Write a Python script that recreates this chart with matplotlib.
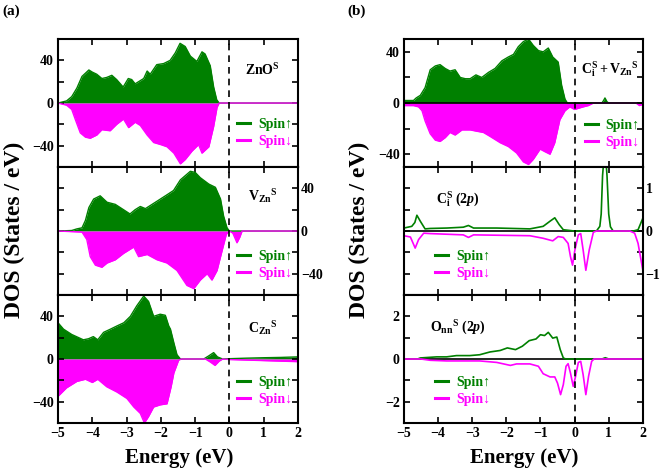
# Spin-polarised DOS panels: (a) total DOS, (b) total + projected 2p DOS
import matplotlib
matplotlib.use('Agg')
import matplotlib.pyplot as plt
from matplotlib.ticker import MultipleLocator

plt.rcParams['font.family'] = ['Liberation Serif', 'DejaVu Serif']
plt.rcParams['font.weight'] = 'bold'
plt.rcParams['mathtext.fontset'] = 'custom'
plt.rcParams['mathtext.rm'] = 'Liberation Serif:bold'
plt.rcParams['mathtext.it'] = 'Liberation Serif:bold:italic'
plt.rcParams['mathtext.bf'] = 'Liberation Serif:bold'

GREEN = '#008000'
MAGENTA = '#ff00ff'

# ---- data (energy in eV, DOS in states/eV) ----
# (a) top: ZnO^S
e_zno_up = [-5, -4.75, -4.6, -4.45, -4.3, -4.1, -4.0, -3.87, -3.72, -3.58, -3.43, -3.29, -3.1, -2.95,
            -2.85, -2.75, -2.6, -2.5, -2.4, -2.31, -2.12, -1.92, -1.73, -1.58, -1.44, -1.29, -1.14,
            -0.95, -0.8, -0.71, -0.56, -0.46, -0.37, -0.3, 2.0]
zno_up = [0, 2, 6, 14, 25, 31, 29, 27, 23, 24, 26, 22, 15, 23, 22, 18, 21, 23, 30, 27, 36, 37, 40,
          47, 56, 53, 44, 39, 48, 46, 35, 15, 3, 0, 0]
e_zno_dn = [-5, -4.75, -4.6, -4.5, -4.35, -4.2, -4.06, -3.87, -3.72, -3.48, -3.29, -3.09, -2.94, -2.75,
            -2.6, -2.4, -2.21, -2.0, -1.82, -1.62, -1.43, -1.29, -1.09, -0.9, -0.8, -0.6, -0.46,
            -0.36, -0.3, 2.0]
zno_dn = [0, -2, -6, -15, -28, -32, -33, -30, -25, -26, -20, -15, -23, -18, -21, -30, -37, -39, -41,
          -47, -57, -53, -45, -39, -47, -41, -22, -4, 0, 0]

# (a) middle: V_Zn^S
e_vzn_up = [-5, -4.6, -4.45, -4.3, -4.2, -4.1, -3.96, -3.77, -3.57, -3.33, -3.09, -2.9, -2.75, -2.6,
            -2.45, -2.11, -1.82, -1.63, -1.43, -1.14, -1.0, -0.85, -0.6, -0.41, -0.26, -0.17,
            -0.07, 0.0, 2.0]
vzn_up = [0, 0.5, 2, 3, 10, 22, 30, 33, 27, 25, 20, 16, 20, 23, 21, 28, 34, 38, 48, 56, 55, 50, 44,
          41, 30, 14, 3, 0, 0]
e_vzn_dn = [-5, -4.3, -4.16, -4.06, -3.91, -3.72, -3.57, -3.33, -3.09, -2.79, -2.65, -2.4, -2.11,
            -1.82, -1.53, -1.24, -1.04, -0.85, -0.65, -0.51, -0.36, -0.21, -0.09, 0.0, 0.1, 0.22,
            0.3, 0.37, 2.0]
vzn_dn = [0, -1, -8, -24, -32, -34, -30, -27, -21, -15, -24, -22, -27, -30, -37, -51, -54, -46, -40,
          -46, -37, -18, -3, 0, -2, -11, -6, 0, 0]

# (a) bottom: C_Zn^S
e_czn_up = [-5, -4.84, -4.6, -4.26, -4.11, -3.97, -3.84, -3.67, -3.47, -3.28, -3.08, -2.89, -2.7,
            -2.5, -2.36, -2.21, -2.02, -1.87, -1.77, -1.72, -1.62, -1.53, -1.43, -0.75, -0.6,
            -0.46, -0.35, -0.2, 0.0, 0.5, 1.0, 1.5, 2.0]
czn_up = [34, 28, 23, 18, 19, 21, 18, 25, 28, 31, 34, 40, 50, 59, 54, 40, 42, 41, 31, 28, 15, 4, 0,
          0, 3, 6, 2, 0, 0.3, 0.8, 1.2, 1.5, 2.0]
e_czn_dn = [-5, -4.75, -4.45, -4.2, -4.0, -3.84, -3.58, -3.28, -2.99, -2.79, -2.6, -2.48, -2.36,
            -2.21, -2.02, -1.82, -1.7, -1.62, -1.48, -1.4, -0.7, -0.55, -0.42, -0.3, -0.2, 0.0,
            1.0, 2.0]
czn_dn = [-35, -27, -21, -19, -22, -19, -26, -31, -37, -45, -51, -60, -54, -45, -43, -42, -26, -13,
          -1, 0, 0, -3, -6, -2, 0, -0.5, -1.5, -2.5]

# (b) top: C_i^S + V_Zn^S
e_civ_up = [-5, -4.72, -4.64, -4.52, -4.38, -4.23, -4.08, -3.94, -3.79, -3.65, -3.5, -3.35, -3.2,
            -3.06, -2.89, -2.72, -2.52, -2.33, -2.13, -1.94, -1.79, -1.65, -1.5, -1.35, -1.21,
            -1.06, -0.92, -0.77, -0.64, -0.48, -0.38, -0.28, -0.21, 0.8, 0.85, 0.89, 0.95, 1.0, 2.0]
civ_up = [2, 2, 4, 6, 12, 26, 29, 30, 27, 25, 26, 20, 19, 19, 22, 20, 24, 27, 33, 36, 38, 44, 48,
          50, 45, 41, 40, 43, 36, 32, 14, 3, 0, 0, 2, 4, 1, 0, 0]
e_civ_dn = [-5, -4.72, -4.57, -4.47, -4.38, -4.23, -4.08, -3.94, -3.79, -3.65, -3.5, -3.3, -3.06,
            -2.87, -2.67, -2.48, -2.18, -1.94, -1.7, -1.5, -1.35, -1.21, -1.01, -0.87, -0.72,
            -0.58, -0.43, -0.28, -0.14, 0.0, 0.25, 0.4, 0.55, 1.8, 1.9, 2.0]
civ_dn = [-2, -2, -3, -6, -14, -24, -29, -30, -27, -23, -25, -21, -21, -22, -23, -26, -31, -34,
          -39, -46, -48, -44, -36, -38, -40, -31, -13, -6, -3, -5, -3, -2, 0, 0, -2, -1]

# (b) middle: C_i^S (2p)
e_ci_up = [-5, -4.77, -4.68, -4.62, -4.52, -4.38, -4.23, -3.74, -3.26, -3.11, -2.96, -2.28, -1.79,
           -1.31, -0.92, -0.72, -0.58, -0.45, -0.33, 0.0, 0.64, 0.74, 0.78, 0.82, 0.89, 0.95,
           1.0, 1.05, 1.13, 1.72, 1.86, 2.0]
ci_up = [0.07, 0.11, 0.2, 0.37, 0.23, 0.05, 0.06, 0.07, 0.09, 0.13, 0.07, 0.07, 0.06, 0.05, 0.11,
         0.23, 0.31, 0.15, 0.03, 0.0, 0.0, 0.11, 0.4, 1.3, 2.0, 1.3, 0.4, 0.1, 0.0, 0.0, 0.03, 0.3]
e_ci_dn = [-5, -4.81, -4.67, -4.57, -4.42, -4.23, -3.26, -3.11, -2.96, -1.31, -0.92, -0.64, -0.48,
           -0.33, -0.19, -0.12, -0.06, 0.01, 0.11, 0.18, 0.25, 0.33, 0.43, 0.55, 0.64, 1.62,
           1.76, 1.86, 2.0]
ci_dn = [-0.11, -0.14, -0.4, -0.2, -0.05, -0.06, -0.09, -0.15, -0.09, -0.11, -0.17, -0.23, -0.13,
         -0.15, -0.29, -0.6, -0.8, -0.44, -0.09, -0.06, -0.44, -0.92, -0.44, -0.03, 0.0, 0.0,
         -0.05, -0.29, -0.92]

# (b) bottom: O_nn^S (2p)
e_onn_up = [-5, -4.6, -4.52, -4.04, -3.75, -3.46, -3.07, -2.78, -2.48, -2.18, -1.97, -1.73, -1.53,
            -1.33, -1.13, -1.0, -0.88, -0.77, -0.64, -0.52, -0.42, -0.33, -0.26, 0.8, 0.9, 1.0, 2.0]
onn_up = [0, 0, 0.05, 0.1, 0.1, 0.16, 0.16, 0.2, 0.33, 0.4, 0.52, 0.44, 0.6, 0.86, 0.94, 1.14, 1.1,
          1.25, 0.98, 1.03, 0.44, 0.05, 0, 0, 0.06, 0, 0]
e_onn_dn = [-5, -4.5, -4.23, -3.75, -2.78, -2.28, -1.88, -1.7, -1.31, -1.06, -0.92, -0.72, -0.58,
            -0.5, -0.41, -0.33, -0.25, -0.19, -0.12, -0.04, 0.03, 0.11, 0.18, 0.25, 0.33, 0.41,
            0.5, 0.57, 2.0]
onn_dn = [0, 0, -0.06, -0.09, -0.09, -0.16, -0.3, -0.23, -0.23, -0.34, -0.69, -0.84, -0.84, -1.13,
          -1.67, -1.2, -0.34, -0.22, -0.66, -1.28, -0.81, -0.16, -0.11, -0.73, -1.67, -0.81,
          -0.11, 0, 0]

# ---- figure layout ----
fig = plt.figure(figsize=(6.6, 4.7), dpi=100)
h = 0.2723
bottoms = [0.1 + 2 * h, 0.1 + h, 0.1]
axa = [fig.add_axes([0.0879, b, 0.3636, h]) for b in bottoms]
axb = [fig.add_axes([0.612, b, 0.362, h]) for b in bottoms]


def style(ax, ylim, major, minor, right=False, last=False):
    ax.set_xlim(-5, 2)
    ax.set_ylim(*ylim)
    ax.xaxis.set_major_locator(MultipleLocator(1))
    ax.yaxis.set_major_locator(MultipleLocator(major))
    ax.yaxis.set_minor_locator(MultipleLocator(minor))
    ax.tick_params(which='both', direction='in', top=True, right=True, length=4, width=1.2,
                   labelsize=10, pad=3)
    ax.tick_params(axis='x', labelbottom=last)
    if right:
        ax.tick_params(axis='y', labelleft=False, labelright=True, pad=2)
    for s in ax.spines.values():
        s.set_linewidth(1.5)
    ax.axvline(0, color='black', ls='--', lw=1.2, dashes=(4, 3))
    ax.set_yticks([t for t in ax.get_yticks() if ylim[0] < t < ylim[1]])
    ax.set_ylim(*ylim)
    for lab in ax.get_xticklabels() + ax.get_yticklabels():
        lab.set_fontweight('bold')


def filled(ax, e_up, up, e_dn, dn):
    ax.fill_between(e_up, up, 0, color=GREEN, lw=0)
    ax.fill_between(e_dn, dn, 0, color=MAGENTA, lw=0)
    l1, = ax.plot(e_up, up, color=GREEN, lw=1.0, label='Spin↑')
    l2, = ax.plot(e_dn, dn, color=MAGENTA, lw=1.0, label='Spin↓')
    return [l1, l2]


def lines(ax, e_up, up, e_dn, dn):
    ax.axhline(0, color='black', lw=1.2)
    l1, = ax.plot(e_up, up, color=GREEN, lw=1.2, label='Spin↑')
    l2, = ax.plot(e_dn, dn, color=MAGENTA, lw=1.2, label='Spin↓')
    return [l1, l2]


def legend(ax, handles, x, y):
    leg = ax.legend(handles=handles, loc='upper left', bbox_to_anchor=(x, y), frameon=False,
                    borderpad=0, borderaxespad=0, handlelength=0.95, handletextpad=0.55,
                    labelspacing=0.3, labelcolor='linecolor',
                    prop={'size': 10, 'weight': 'bold'})
    for line in leg.get_lines():
        line.set_linewidth(2.2)


# panel (a)
hd = filled(axa[0], e_zno_up, zno_up, e_zno_dn, zno_dn)
style(axa[0], (-60, 60), 40, 20)
legend(axa[0], hd, 0.746, 0.383)
axa[0].text(0.85, 0.758, r'$\mathrm{ZnO^{S}}$', transform=axa[0].transAxes, ha='center',
            va='center', fontsize=10)

hd = filled(axa[1], e_vzn_up, vzn_up, e_vzn_dn, vzn_dn)
style(axa[1], (-60, 60), 40, 20, right=True)
legend(axa[1], hd, 0.746, 0.354)
axa[1].text(0.854, 0.775, r'$\mathrm{V_{Zn}}^{\mathrm{S}}$', transform=axa[1].transAxes,
            ha='center', va='center', fontsize=10)

hd = filled(axa[2], e_czn_up, czn_up, e_czn_dn, czn_dn)
style(axa[2], (-60, 60), 40, 20, last=True)
legend(axa[2], hd, 0.746, 0.367)
axa[2].text(0.854, 0.745, r'$\mathrm{C_{Zn}}^{\mathrm{S}}$', transform=axa[2].transAxes,
            ha='center', va='center', fontsize=10)

# panel (b)
hd = filled(axb[0], e_civ_up, civ_up, e_civ_dn, civ_dn)
axb[0].axhline(0, color='black', lw=1.2)
style(axb[0], (-50, 50), 40, 20)
legend(axb[0], hd, 0.757, 0.375)
axb[0].text(0.862, 0.766, r'$\mathrm{C_{i}^{S}+V_{Zn}}^{\mathrm{S}}$', transform=axb[0].transAxes,
            ha='center', va='center', fontsize=10)

hd = lines(axb[1], e_ci_up, ci_up, e_ci_dn, ci_dn)
style(axb[1], (-1.5, 1.5), 1, 0.5, right=True)
legend(axb[1], hd, 0.13, 0.354)
axb[1].text(0.226, 0.748, r'$\mathrm{C_{i}^{S}}$ (2$\mathit{p}$)', transform=axb[1].transAxes,
            ha='center', va='center', fontsize=10)

hd = lines(axb[2], e_onn_up, onn_up, e_onn_dn, onn_dn)
style(axb[2], (-3, 3), 2, 1, last=True)
legend(axb[2], hd, 0.13, 0.367)
axb[2].text(0.226, 0.742, r'$\mathrm{O_{nn}}^{\mathrm{S}}$ (2$\mathit{p}$)', transform=axb[2].transAxes,
            ha='center', va='center', fontsize=10)

# figure-level labels
fig.text(2 / 660, 1 - 11 / 470, '(a)', ha='left', va='center', fontsize=11, fontweight='bold')
fig.text(347 / 660, 1 - 11 / 470, '(b)', ha='left', va='center', fontsize=11, fontweight='bold')
for xc in (14, 359):
    fig.text(xc / 660, 1 - 230 / 470, 'DOS (States / eV)', rotation=90, ha='center',
             va='center', fontsize=17, fontweight='bold')
for xc in (179, 524):
    fig.text(xc / 660, 1 - 458 / 470, 'Energy (eV)', ha='center', va='center', fontsize=15,
             fontweight='bold')

fig.savefig('out.png', dpi=100)
